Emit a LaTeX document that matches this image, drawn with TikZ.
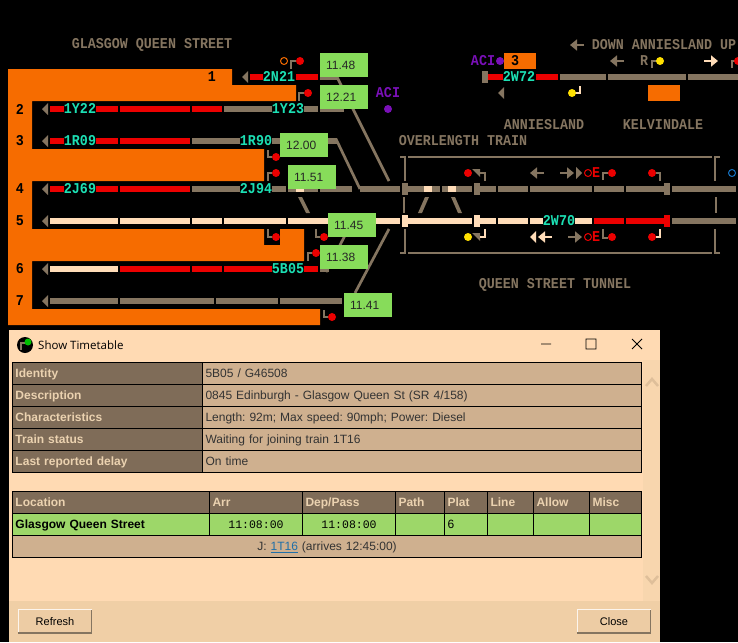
\documentclass[tikz,border=0pt]{standalone}
\usepackage{fontspec}
\setmainfont{Liberation Sans}
\newfontfamily\railfont[FakeStretch=0.89]{Liberation Mono}
\newfontfamily\timefont{Liberation Mono}
\newfontfamily\winfont{Open Sans}
\usetikzlibrary{arrows.meta}
\frenchspacing
\definecolor{fieldorange}{HTML}{F66C00}
\definecolor{railgrey}{HTML}{857560}
\definecolor{railred}{HTML}{EC0000}
\definecolor{railcream}{HTML}{FFDCB8}
\definecolor{codecyan}{HTML}{1CE0B4}
\definecolor{tagpurple}{HTML}{7A10B8}
\definecolor{lampyellow}{HTML}{FFE000}
\definecolor{tiptagreen}{HTML}{87DC5A}
\definecolor{winback}{HTML}{FFDAB3}
\definecolor{winfoot}{HTML}{F0CFA6}
\definecolor{scrollback}{HTML}{F8D6AE}
\definecolor{scrollmark}{HTML}{DFBF9A}
\definecolor{headcell}{HTML}{7F6C58}
\definecolor{headtext}{HTML}{EBD2B0}
\definecolor{valuecell}{HTML}{CFB08F}
\definecolor{rowgreen}{HTML}{9DD769}
\definecolor{linkblue}{HTML}{1F6FA8}

\begin{document}
\begin{tikzpicture}
  [
    x = 1pt, y = -1pt,
    railseg/.style = {line width = 6pt},
    spur/.style = {railgrey, line width = 2.7pt},
    stem/.style = {line width = 2pt},
    signarrow/.style = {line width = 2.5pt, -{Triangle[length=7pt, width=11pt]}},
    railtext/.style = {inner sep = 0, font = \railfont\bfseries\fontsize{15}{17}\selectfont},
    headcode/.style = {railtext, codecyan, fill = black, text height = 10pt, text depth = 0.5pt},
    timetag/.style = {anchor = north west, fill = tiptagreen, minimum height = 24pt,
      text width = 43pt, inner xsep = 0pt, inner ysep = 0pt, align = left,
      minimum width = 48pt, font = \fontsize{12}{14}\selectfont, text = black!85},
    cell/.style = {draw = black, line width = 1pt, anchor = north west, inner xsep = 3pt,
      inner ysep = 0pt, align = left, text height = 9pt, text depth = 1pt, minimum height = 22pt,
      font = \fontsize{12}{14}\selectfont, text = black!80},
    headbox/.style = {cell, fill = headcell, text = headtext, font = \bfseries\fontsize{12}{14}\selectfont},
    valuebox/.style = {cell, fill = valuecell},
    greenbox/.style = {cell, fill = rowgreen, text = black},
    winbutton/.style = {fill = winfoot!90!valuecell, minimum width = 73pt, minimum height = 23pt,
      inner sep = 0, font = \fontsize{11}{13}\selectfont, text = black},
  ]
  \path[use as bounding box, clip] (0,0) rectangle (738,642);
  \fill[black] (0,0) rectangle (738,642);

  % platform block
  \fill[fieldorange] (8,69) -| (232,85) -| (296,101) -| (32,149) -| (264,181) -| (32,229)
    -| (264,245) -| (280,229) -| (304,261) -| (32,309) -| (320,325) -| (8,69) -- cycle;
  \fill[fieldorange] (504,53) rectangle (536,69);
  \fill[fieldorange] (648,85) rectangle (680,101);

  % approach lines
  \draw[spur] (337,77) -- (389,181);
  \draw[spur] (336,139) -- (360,189);
  \draw[spur] (352,222) -- (326,272);
  \draw[spur] (389,229) -- (355,293);

  % track sections
  \foreach \Y/\Segs in {
    77/{250/264/railred, 296/318/railred, 320/337/railgrey, 488/504/railred, 536/558/railred,
        560/606/railgrey, 608/686/railgrey, 688/738/railgrey},
    109/{50/64/railred, 96/118/railred, 120/190/railred, 192/222/railred, 224/272/railgrey,
        304/318/railgrey, 320/344/railgrey},
    141/{50/64/railred, 96/118/railred, 120/190/railred, 192/240/railgrey, 272/337/railgrey},
    189/{50/64/railred, 96/118/railred, 120/190/railred, 192/240/railgrey, 272/286/railgrey,
        288/296/railgrey, 296/304/railcream, 304/318/railgrey, 320/352/railgrey, 360/400/railgrey,
        408/424/railgrey, 424/432/railcream, 432/440/railgrey, 442/448/railgrey, 448/456/railcream,
        456/472/railgrey, 480/496/railgrey, 498/528/railgrey, 530/592/railgrey, 594/624/railgrey,
        626/664/railgrey, 672/736/railgrey},
    221/{50/118/railcream, 120/190/railcream, 192/222/railcream, 224/286/railcream, 288/328/railcream,
        376/400/railcream, 408/472/railcream, 480/496/railcream, 498/528/railcream, 530/592/railcream,
        594/624/railred, 626/664/railred, 672/736/railgrey},
    269/{50/118/railcream, 120/190/railred, 192/222/railred, 224/272/railred, 304/318/railred,
        320/329/railgrey},
    301/{50/118/railgrey, 120/214/railgrey, 216/278/railgrey, 280/342/railgrey}}
    \foreach \A/\B/\C in \Segs
      \draw[railseg, color = \C] (\A,\Y) -- (\B,\Y);

  % section ends
  \foreach \A/\Y/\C in {482/77/railgrey, 402/189/railgrey, 474/189/railgrey, 664/189/railgrey,
      402/221/railcream, 474/221/railcream, 664/221/railred}
    \fill[\C] (\A,\Y-6) rectangle (\A+6,\Y+6);

  % running direction marks
  \foreach \X/\Y/\C in {42/109/railgrey, 42/141/railgrey, 42/189/railgrey, 42/221/railgrey,
      42/269/railgrey, 42/301/railgrey, 242/77/railgrey, 498/93/railgrey, 530/237/railcream}
    \fill[\C] (\X+6,\Y-6) -- (\X,\Y) -- (\X+6,\Y+6) -- cycle;
  \fill[railgrey] (576,167) -- (582,173) -- (576,179) -- cycle;
  \foreach \A/\B/\Y/\C in {584/570/45/railgrey, 624/610/61/railgrey, 704/718/61/railcream,
      544/530/173/railgrey, 560/574/173/railgrey, 552/538/237/railcream, 568/582/237/railgrey}
    \draw[signarrow, color = \C] (\A,\Y) -- (\B,\Y);

  % crossover stubs
  \foreach \A/\B/\C/\D in {298/302/310/306, 429/425/418/422, 451/455/462/458}
    \fill[railgrey] (\A,197) -- (\B,197) -- (\C,213) -- (\D,213) -- cycle;
  \foreach \Y in {233,169}
    \fill[railgrey] (472,\Y) -- (480,\Y) -- (480,\Y+8) -- cycle;

  % tunnel frame
  \draw[railgrey, line width = 2pt]
    (408,157) -- (712,157) (408,253) -- (712,253)
    (400,157) -| (405,181) (404,197) -- (404,213) (400,253) -| (405,229)
    (720,157) -| (715,181) (716,197) -- (716,213) (720,253) -| (715,229);

  % signals
  \foreach \P/\Q/\R/\S/\C in {291/69/61/296/railgrey, 299/101/93/304/railgrey, 268/150/157/272/railgrey,
      268/181/173/272/railgrey, 268/229/237/272/railgrey, 316/229/237/320/railgrey,
      308/261/253/312/railgrey, 324/310/317/328/railgrey, 652/68/61/657/railgrey, 580/86/93/575/railcream,
      485/181/173/480/railgrey, 603/180/173/608/railgrey, 603/229/238/608/railgrey, 660/181/173/656/railgrey,
      732/68/61/737/railgrey, 485/229/237/480/railcream, 660/229/237/656/railcream}
    \draw[stem, color = \C] (\P,\Q) -- (\P,\R) -- (\S,\R);
  \foreach \X/\Y in {300/61, 308/93, 276/157, 276/173, 276/237, 324/237, 316/253, 332/317, 468/173,
      612/173, 652/173, 612/237, 652/237, 738/61}
    \fill[railred] (\X,\Y) circle[radius = 4pt];
  \foreach \X/\Y in {660/61, 572/93, 468/237}
    \fill[lampyellow] (\X,\Y) circle[radius = 4pt];
  \foreach \X/\Y in {388/109, 500/61}
    \fill[tagpurple] (\X,\Y) circle[radius = 4pt];
  \foreach \X/\Y/\C in {284/61/fieldorange, 588/173/railred, 588/237/railred, 732/173/cyan!55!blue}
    \draw[\C, line width = 1pt] (\X,\Y) circle[radius = 3.5pt];

  % train describers
  \foreach \N/\X/\Y in {2N21/279/77, 1Y22/80/109, 1Y23/288/109, 1R09/80/141, 1R90/256/141, 2J69/80/189,
      2J94/256/189, 5B05/288/269, 2W72/519/77, 2W70/559/221}
    \node[headcode] (C\N) at (\X,\Y) {\N};

  % platform numbers
  \foreach \N/\X/\Y in {1/212/77, 2/20/109, 3/20/141, 4/20/189, 5/20/221, 6/20/269, 7/20/301, 3/515/61}
    \node[railtext, black] (P\N\X) at (\X,\Y) {\N};

  % captions
  \begin{scope}[nodes = {railtext, railgrey}]
    \node (Queen) at (152,45) {GLASGOW QUEEN STREET};
    \node (Line) at (664,45) {DOWN ANNIESLAND UP};
    \node (Rmark) at (644,61) {R};
    \node (Anniesland) at (544,125) {ANNIESLAND};
    \node (Kelvindale) at (663,125) {KELVINDALE};
    \node (Overlength) at (463,141) {OVERLENGTH TRAIN};
    \node (Tunnel) at (555,285) {QUEEN STREET TUNNEL};
    \node[tagpurple] (AciA) at (388,93) {ACI};
    \node[tagpurple] (AciB) at (483,61) {ACI};
    \node[railred] (EUp) at (596,173) {E};
    \node[railred] (EDown) at (596,237) {E};
  \end{scope}

  % time tags
  \foreach \N/\X/\Y/\T in {A/320/53/11.48, B/320/85/12.21, C/280/133/12.00, D/288/165/11.51,
      E/328/213/11.45, F/320/245/11.38, G/344/293/11.41}
    \node[timetag] (Tag\N) at (\X,\Y) {\hspace{3.5pt}\T};

  % timetable window
  \fill[winback] (9,330) rectangle (660,642);
  \fill[scrollback] (643,360) rectangle (660,601);
  \fill[winfoot] (9,601) rectangle (660,642);
  \fill[black] (25,345) circle[radius = 8pt];
  \draw[railgrey, stem] (21,350) -- (21,343) -- (26,343);
  \fill[green!75!black] (28,342) circle[radius = 3.5pt];
  \node[anchor = west, inner sep = 0, font = \winfont\fontsize{11.5}{13}\selectfont] (Title) at (38,345) {Show Timetable};
  \draw[black, line width = 0.8pt] (541,344) -- (551,344) (586,339) rectangle (596,349)
    (632,339) -- (642,349) (632,349) -- (642,339);
  \draw[scrollmark, line width = 2.5pt] (646,386) -- (652,379) -- (658,386) (646,576) -- (652,583) -- (658,576);

  \foreach \R/\Head/\Val [evaluate = \R as \Y using 362+22*\R] in {
      0/Identity/{5B05 / G46508},
      1/Description/{0845 Edinburgh - Glasgow Queen St (SR 4/158)},
      2/Characteristics/{Length: 92m; Max speed: 90mph; Power: Diesel},
      3/Train status/{Waiting for joining train 1T16},
      4/Last reported delay/{On time}}
  {
    \node[headbox, text width = 184pt] (Head\R) at (12,\Y) {\Head};
    \node[valuebox, text width = 433pt] (Val\R) at (202,\Y) {\Val};
  }

  \foreach \N/\X/\W/\T in {A/12/191/Location, B/209/87/Arr, C/302/87/{Dep/Pass}, D/395/43/Path,
      E/444/37/Plat, F/487/40/Line, G/533/50/Allow, H/589/46/Misc}
    \node[headbox, text width = \W pt] (Col\N) at (\X,491) {\T};
  \node[greenbox, text width = 191pt, font = \bfseries\fontsize{12}{14}\selectfont] (RowA) at (12,513) {Glasgow Queen Street};
  \node[greenbox, text width = 87pt, align = center, font = \timefont\fontsize{11.5}{14}\selectfont] (RowB) at (209,513) {11:08:00};
  \node[greenbox, text width = 87pt, align = center, font = \timefont\fontsize{11.5}{14}\selectfont] (RowC) at (302,513) {11:08:00};
  \node[greenbox, text width = 43pt] (RowD) at (395,513) {};
  \node[greenbox, text width = 37pt] (RowE) at (444,513) {6};
  \node[greenbox, text width = 40pt] (RowF) at (487,513) {};
  \node[greenbox, text width = 50pt] (RowG) at (533,513) {};
  \node[greenbox, text width = 46pt] (RowH) at (589,513) {};
  \node[valuebox, text width = 623pt, align = center] (Joining) at (12,535)
    {J: \textcolor{linkblue}{\underline{1T16}} (arrives 12:45:00)};

  % buttons
  \foreach \N/\X/\T in {Refresh/55/Refresh, Close/614/Close}
  {
    \node[winbutton] (\N) at (\X,621.5) {\T};
    \draw[white!80!winfoot, line width = 1pt] (\N.south west) |- (\N.north east);
    \draw[railgrey, line width = 1.5pt] (\N.south west) -| (\N.north east);
  }
\end{tikzpicture}
\end{document}
